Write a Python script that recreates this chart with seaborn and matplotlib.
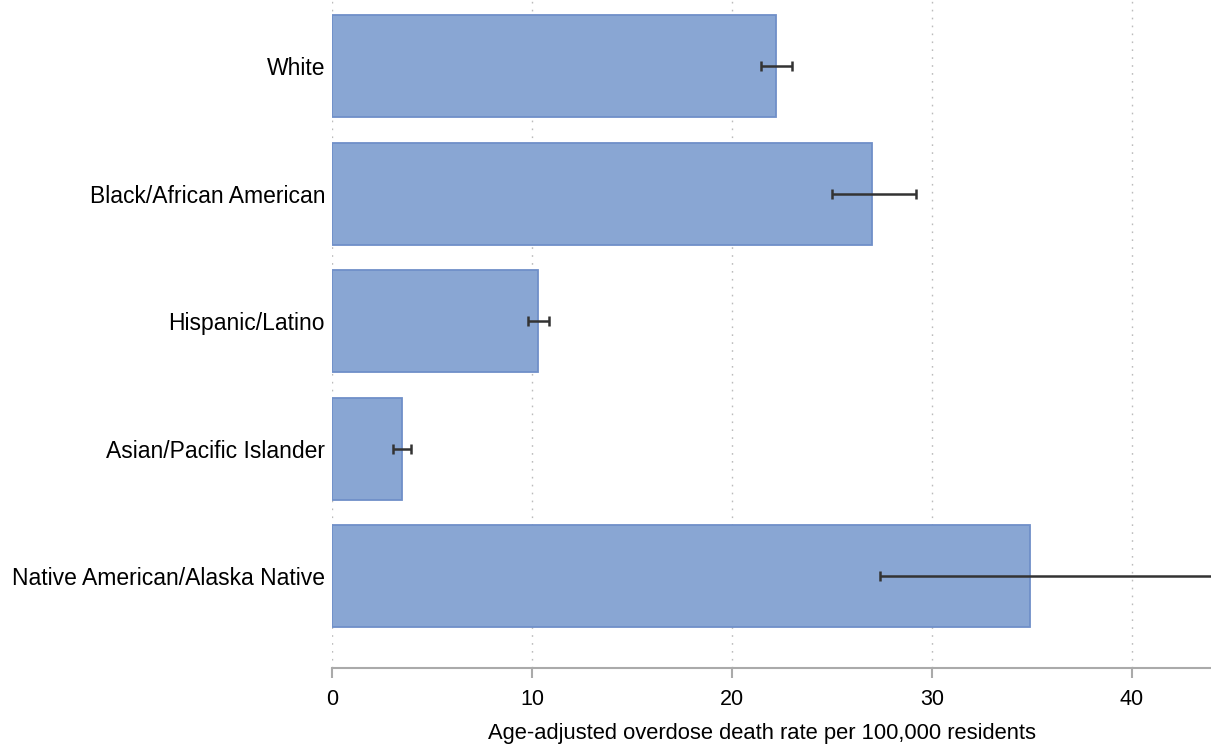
import matplotlib
matplotlib.use("Agg")
import matplotlib.pyplot as plt
import seaborn as sns
import pandas as pd
import numpy as np

groups = ["White", "Black/African American", "Hispanic/Latino",
          "Asian/Pacific Islander", "Native American/Alaska Native"]
rates = [22.2, 27.0, 10.3, 3.5, 34.9]
ci_low = [21.45, 25.0, 9.8, 3.05, 27.4]
ci_high = [23.0, 29.2, 10.85, 3.95, 46.0]
xticks = [0, 10, 20, 30, 40]
xlabel = "Age-adjusted overdose death rate per 100,000 residents"

df = pd.DataFrame({"group": groups, "rate": rates})

sns.set_theme(style="white")
plt.rcParams["font.family"] = ["Liberation Sans", "DejaVu Sans"]

fig = plt.figure(figsize=(12.11, 7.44), dpi=100)
ax = fig.add_axes([332/1211, 76/744, 1 - 332/1211, 668/744])

sns.barplot(data=df, y="group", x="rate", orient="h", ax=ax,
            color="#89A6D3", saturation=1, width=0.8,
            edgecolor="#6F8FC8", linewidth=1.3, errorbar=None, zorder=2)

y = np.arange(len(groups))
xerr = np.array([np.array(rates) - np.array(ci_low),
                 np.array(ci_high) - np.array(rates)])
ax.errorbar(rates, y, xerr=xerr, fmt="none", ecolor="#333333",
            elinewidth=1.8, capsize=3.8, capthick=1.8, zorder=3)

ax.set_xlim(0, 43.95)
ax.set_ylim(4.72, -0.518)
ax.set_xticks(xticks)
ax.set_xticklabels([str(t) for t in xticks])
for t in xticks:
    ax.axvline(t, color="#BBBBBB", lw=1.0, ls=(0, (1.2, 4.5)), zorder=0)

for s in ["top", "right", "left"]:
    ax.spines[s].set_visible(False)
ax.spines["bottom"].set_color("#AAAAAA")
ax.spines["bottom"].set_linewidth(1.5)
ax.tick_params(axis="x", bottom=True, length=7, width=1.5, color="#AAAAAA",
               labelsize=15.5, pad=8, labelcolor="black")
ax.tick_params(axis="y", left=False, length=0, labelsize=16.5, pad=5,
               labelcolor="black")
ax.set_ylabel("")
ax.set_xlabel(xlabel, fontsize=15.8, color="black")
ax.xaxis.set_label_coords((762 - 332) / 879, -65 / 668)
ax.xaxis.label.set_va("center")

fig.savefig("out.png", dpi=100)
